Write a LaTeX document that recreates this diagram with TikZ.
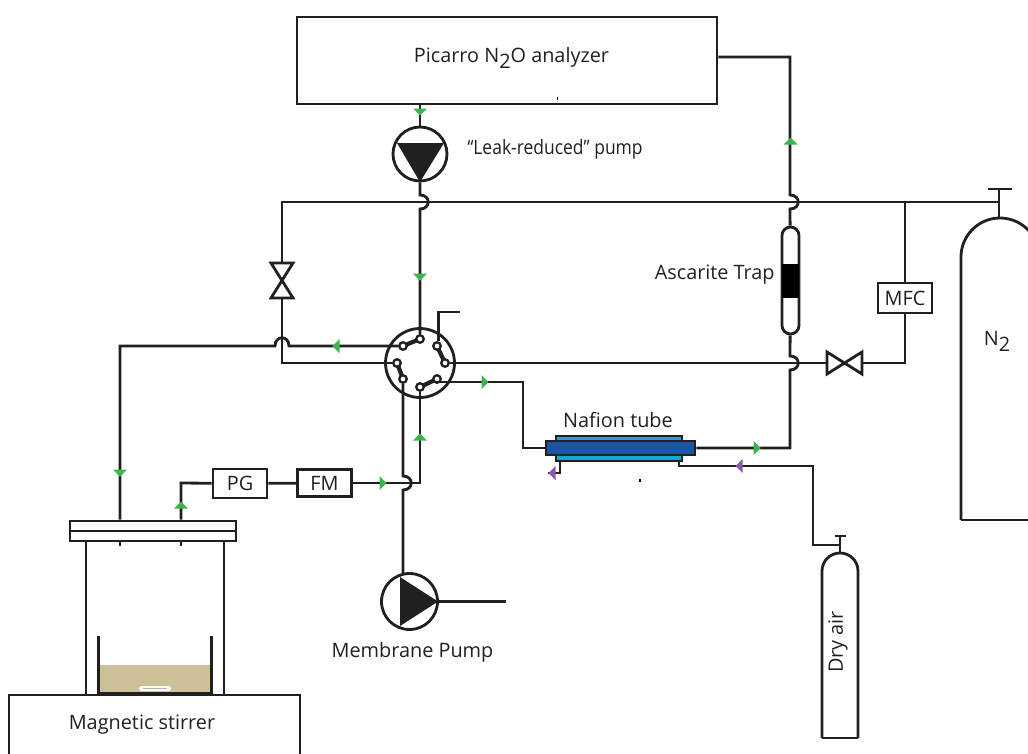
\documentclass[tikz,border=0pt]{standalone}
\usepackage{fontspec}
\setmainfont{Open Sans}
\usepackage{xcolor}
\usetikzlibrary{shapes.geometric, positioning, calc}
\definecolor{PipeBlack}{RGB}{35,31,32}
\definecolor{FlowGreen}{RGB}{57,181,74}
\definecolor{FlowPurple}{RGB}{139,90,170}
\definecolor{NafionBlue}{RGB}{28,84,164}
\definecolor{NafionTeal}{RGB}{18,170,205}
\definecolor{LiquidTan}{RGB}{203,192,152}

\begin{document}
\begin{tikzpicture}[
  x=0.02cm, y=-0.02cm,
  font=\fontsize{11.3pt}{13pt}\selectfont,
  text=PipeBlack,
  pipe/.style={draw=PipeBlack, line width=1.6pt},
  box/.style={rectangle, draw=PipeBlack, line width=1.6pt, fill=white,
              inner sep=0pt, align=center},
  portdot/.style={circle, draw=PipeBlack, line width=1.3pt, fill=white,
                  inner sep=0pt, minimum size=0.15cm},
  pumpbody/.style={circle, draw=PipeBlack, line width=1.6pt, fill=white,
                   inner sep=0pt, minimum size=1.08cm},
  label/.style={inner sep=0pt},
  flowtip/.pic={\path[pic actions, draw=none] (-3.5,-7) -- (3.5,0) -- (-3.5,7) -- cycle;},
  bowtie/.pic={\draw[pipe, fill=white] (-11,-17.5) -- (11,-17.5) -- (-11,17.5) -- (11,17.5) -- cycle;
               \coordinate (-in) at (0,-17.5);
               \coordinate (-out) at (0,17.5);}
]
\useasboundingbox (0,0) rectangle (1028,754);
\clip (0,0) rectangle (1028,754);

% Analyzer and sample pump
\node[box, minimum width=8.4cm, minimum height=1.74cm] (picarro) at (507,60.5) {};
\node[label] (picarrotext) at (511.5,58) {Picarro N\raisebox{-.55ex}{2}O analyzer};
\node[pumpbody] (leakpump) at (420,154) {};
\fill[PipeBlack] (397,143) -- (444,143) -- (420,182) -- cycle;
\node[label, anchor=west, xscale=0.88, transform shape] (leaktext) at (467,149) {``Leak-reduced'' pump};
\draw[line width=0.6pt] (557.5,97) -- (557.5,99.5);

% Rotary valve
\node[circle, draw=PipeBlack, line width=1.6pt, fill=white, minimum size=1.38cm, inner sep=0pt] (rotary) at (420,363) {};
\draw[line width=2.4pt, PipeBlack] (420,339) -- (403,346);
\draw[line width=2.4pt, PipeBlack] (437,346) -- (445,363);
\draw[line width=2.4pt, PipeBlack] (397,363) -- (403,379);
\draw[line width=2.4pt, PipeBlack] (437,379) -- (420,387);
\node[portdot] (pa) at (420,339) {};
\node[portdot] (pb) at (403,346) {};
\node[portdot] (pc) at (437,346) {};
\node[portdot] (pd) at (445,363) {};
\node[portdot] (pe) at (397,363) {};
\node[portdot] (pf) at (403,379) {};
\node[portdot] (pg) at (437,379) {};
\node[portdot] (ph) at (420,387) {};

% Trap, MFC, boxes
\node[box, rounded corners=0.17cm, minimum width=0.34cm, minimum height=2.14cm] (trap) at (790.5,280.5) {};
\fill[black] (782,264) rectangle (799,298);
\node[label, anchor=east] (traptext) at (775,275) {Ascarite Trap};
\node[box, minimum width=1.08cm, minimum height=0.6cm] (mfc) at (905,298) {MFC};
\node[box, minimum width=1.08cm, minimum height=0.58cm] (pgauge) at (240,483.5) {PG};
\node[box, minimum width=1.08cm, minimum height=0.54cm] (fmeter) at (324.5,483) {FM};

% Valves
\pic (leftvalve) at (282,280.5) {bowtie};
\pic[rotate=90] (rightvalve) at (844.5,363) {bowtie};

% Nafion tube
\node[box, fill=NafionTeal, minimum width=2.52cm, minimum height=0.5cm] (nafionouter) at (619,448.5) {};
\node[box, fill=NafionBlue, minimum width=2.98cm, minimum height=0.28cm] (nafion) at (620.5,448) {};
\node[label] (nafiontext) at (618,420) {Nafion tube};
\draw[line width=0.6pt] (640,479) -- (640,481.5);

% Membrane pump
\node[pumpbody, minimum size=1.12cm] (mempump) at (409.5,601.5) {};
\fill[PipeBlack] (400,577) -- (400,626) -- (438,601.5) -- cycle;
\node[label] (memtext) at (412.5,652) {Membrane Pump};
\coordinate (memout) at (506,601.5);

% Reactor
\node[label] (stirtext) at (142,725) {Magnetic stirrer};
\draw[pipe] (9,770) -- (9,695) -- (300,695) -- (300,770);
\draw[pipe] (86,541) -- (86,695);
\draw[pipe] (224,541) -- (224,695);
\fill[LiquidTan] (99,665) rectangle (211,692);
\draw[pipe] (98.5,636) -- (98.5,693) -- (211.5,693) -- (211.5,636);
\node[rectangle, rounded corners=1.5pt, fill=white, minimum width=0.64cm, minimum height=0.1cm, inner sep=0pt] (stirbar) at (155,688.5) {};
\draw[gray!60, line width=0.5pt] (143,688.5) -- (167,688.5);
\node[box, minimum width=3.32cm, minimum height=0.4cm] (lid) at (153,531) {};
\draw[pipe] (lid.west) -- (lid.east);
\draw[pipe] (120,541) -- (120,546);
\draw[pipe] (181,541) -- (181,546);

% Gas cylinders
\draw[pipe, rounded corners=0.78cm] (961,520) -- (961,218) -- (1039,218) -- (1039,520);
\draw[pipe] (961,520) -- (1039,520);
\coordinate (ntwotop) at (999,218);
\coordinate (ntwocap) at (999,189);
\draw[pipe] (ntwotop) -- (ntwocap);
\draw[pipe] (988,189) -- (1012,189);
\node[label] (ntwotext) at (997,341) {N\raisebox{-.55ex}{2}};
\draw[pipe, rounded corners=0.36cm] (822,738) -- (822,553) -- (858,553) -- (858,738);
\draw[pipe] (822,738) -- (858,738);
\coordinate (airtop) at (840,553);
\coordinate (aircap) at (840,536);
\draw[pipe] (airtop) -- (aircap);
\draw[pipe] (835,536) -- (846,536);
\node[label, rotate=90] (airtext) at (838,642) {Dry air};

% Pipes
\draw[pipe] (picarro.south -| leakpump) -- (leakpump);
\draw[pipe] (leakpump.south) -- (420,195) .. controls (431,195) and (431,209) .. (420,209) -- (pa);
\draw[pipe] (999,202) -- (282,202) -- (leftvalve-in);
\draw[pipe] (leftvalve-out) -- (282,363) -- (pe);
\draw[pipe] (pb) -- (289,346) .. controls (289,335) and (275,335) .. (275,346) -- (120,346) -- (lid.north -| 120,0);
\draw[pipe] (pc.70) -- (pc.70 |- 0,312) -- (460,312);
\draw[pipe] (pd) -- (rightvalve-in);
\draw[pipe] (rightvalve-out) -- (905,363) -- (mfc);
\draw[pipe] (mfc) -- (905,202);
\draw[pipe] (pg) -- (437,382) -- (523,382) -- (523,448) -- (nafion);
\draw[pipe] (pf) -- (403,476) .. controls (414,476) and (414,490) .. (403,490) -- (403,574);
\draw[pipe] (ph) -- (420,483) -- (fmeter);
\draw[pipe] (fmeter) -- (pgauge);
\draw[pipe] (pgauge) -- (181,483) -- (lid.north -| 181,0);
\draw[pipe] (mempump) -- (memout);
\draw[pipe] (picarro.east |- 0,57) -- (790,57) -- (790,195) .. controls (801,195) and (801,209) .. (790,209) -- (trap);
\draw[pipe] (trap) -- (790,356) .. controls (801,356) and (801,370) .. (790,370) -- (790,448) -- (nafion);
\draw[pipe] (560,461) -- (560,473) -- (548,473);
\draw[pipe] (679,461) -- (679,466) -- (813,466) -- (813,545) -- (840,545);

% Flow marks
\pic[fill=FlowGreen, rotate=270] (marka) at (420,112) {flowtip};
\pic[fill=FlowGreen, rotate=270] (markb) at (420,277) {flowtip};
\pic[fill=FlowGreen, rotate=90] (markc) at (790.5,141) {flowtip};
\pic[fill=FlowGreen, rotate=180] (markd) at (336,346) {flowtip};
\pic[fill=FlowGreen] (marke) at (485,382) {flowtip};
\pic[fill=FlowGreen, rotate=90] (markf) at (420,437) {flowtip};
\pic[fill=FlowGreen] (markg) at (383,483) {flowtip};
\pic[fill=FlowGreen, rotate=270] (markh) at (120,473) {flowtip};
\pic[fill=FlowGreen, rotate=90] (marki) at (181,505) {flowtip};
\pic[fill=FlowGreen] (markj) at (757,448) {flowtip};
\pic[fill=FlowPurple, rotate=180] (markk) at (552,473) {flowtip};
\pic[fill=FlowPurple, rotate=180] (markl) at (739,466) {flowtip};

\end{tikzpicture}
\end{document}
